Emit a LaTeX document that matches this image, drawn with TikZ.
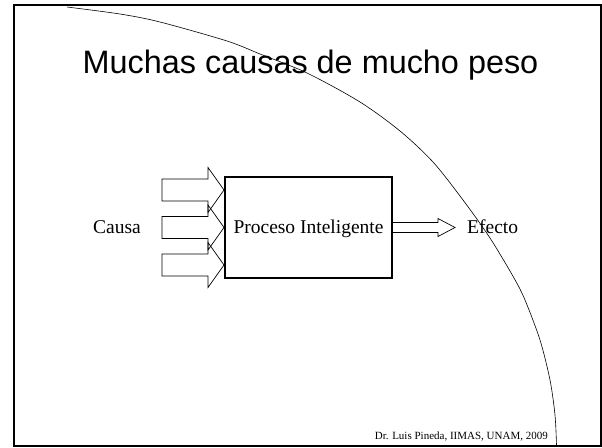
\documentclass[tikz,border=0pt]{standalone}
\usepackage{fontspec}
\setmainfont{Liberation Serif}
\newfontfamily\titlefont{Liberation Sans}
\tikzset{
  txt/.style={inner sep=0pt, font=\fontsize{19.5}{22}\selectfont},
  blockarrow/.style={draw=black, line width=0.7pt, line join=miter},
  procbox/.style={draw=black, line width=2.2pt, inner sep=0pt,
    minimum width=167pt, minimum height=101pt,
    text height=12.9pt, text depth=0pt, font=\fontsize{19.5}{22}\selectfont},
}
\begin{document}
\begin{tikzpicture}[x=1pt,y=-1pt]
\useasboundingbox (0,0) rectangle (602,447);
% slide frame
\draw[line width=1.3pt] (14,5) -- (601,5) -- (601,446);
\draw[line width=2.4pt] (14,4.4) -- (14,446) -- (601.6,446);
% decorative arc
\draw[line width=0.6pt] plot[smooth] coordinates {(67,7) (120,14) (160,22) (227,41) (260,54) (307,73) (360,102) (400,131) (433,162) (463,200) (490,238) (514,278) (525,300) (540,340) (550,380) (555,415) (556.5,445)};
% title
\node[inner sep=0pt, anchor=base, font=\titlefont\fontsize{32.4}{38}\selectfont] (title) at (310.5,73) {Muchas causas de mucho peso};
% process box
\node[procbox] (proc) at (308.5,227.5) {Proceso Inteligente};
% input arrows
\foreach \c in {190,227.5,265}{
  \draw[blockarrow] (162,{\c-11}) -- (208,{\c-11}) -- (208,{\c-22.5}) -- (224,\c) -- (208,{\c+22.5}) -- (208,{\c+11}) -- (162,{\c+11}) -- cycle;
}
% output arrow
\draw[blockarrow] (proc.east |- 0,222.5) -- (438,222.5) -- (438,218.5) -- (455,227.5) -- (438,236.5) -- (438,232.5) -- (proc.east |- 0,232.5);
% labels
\node[txt, anchor=base west] (causa) at (93,233.8) {Causa};
\node[txt, anchor=base west] (efecto) at (467,233.5) {Efecto};
\node[inner sep=0pt, anchor=base east, font=\fontsize{11}{13}\selectfont] (foot) at (548,439.5) {Dr. Luis Pineda, IIMAS, UNAM, 2009};
\end{tikzpicture}
\end{document}
